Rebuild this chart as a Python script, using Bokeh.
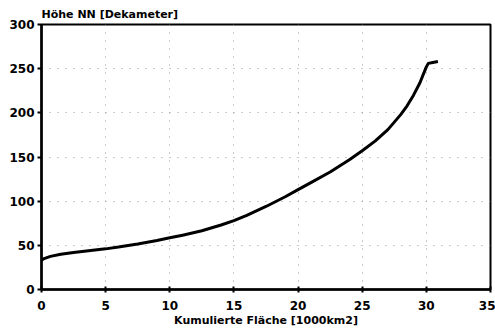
from bokeh.plotting import figure
from bokeh.models import Range1d, Title, FixedTicker
from bokeh.embed import file_html
from bokeh.resources import INLINE

area_x = [0, 0.2, 0.7, 1.5, 2.5, 4, 5, 6, 7.5, 9, 10, 11, 12.5, 14, 15, 16, 17.5, 19, 20, 21,
          22.5, 24, 25, 26, 27, 28, 28.5, 29, 29.5, 29.8, 30.0, 30.15, 30.5, 30.9]
height_y = [33, 35, 37.5, 40, 42, 44.5, 46, 48, 51.5, 55.5, 58.5, 61.5, 66.5, 73, 78, 84, 94, 105, 113, 121,
            133, 147, 157, 168, 181, 198, 208, 220, 234, 245, 252, 256, 257, 258]
x_ticks = [0, 5, 10, 15, 20, 25, 30, 35]
y_ticks = [0, 50, 100, 150, 200, 250, 300]

p = figure(width=495, height=333, output_backend="svg", toolbar_location=None,
           x_range=Range1d(0, 35), y_range=Range1d(0, 300),
           min_border_left=41, min_border_right=5, min_border_top=24, min_border_bottom=44)

p.line(area_x, height_y, line_color="black", line_width=3, line_join="round")

for ax in (p.xaxis, p.yaxis):
    ax.axis_line_width = 2.5
    ax.axis_line_color = "black"
    ax.major_tick_line_width = 2
    ax.major_tick_line_color = "black"
    ax.minor_tick_line_color = None
    ax.major_label_text_font = "DejaVu Sans"
    ax.major_label_text_font_style = "bold"
    ax.major_label_text_font_size = "12px"
    ax.major_label_text_color = "black"

p.xaxis.ticker = FixedTicker(ticks=x_ticks)
p.yaxis.ticker = FixedTicker(ticks=y_ticks)
p.xaxis.major_tick_in = 3
p.xaxis.major_tick_out = 3
p.yaxis.major_tick_in = 0
p.yaxis.major_tick_out = 4
p.xaxis.major_label_standoff = 8
p.yaxis.major_label_standoff = 3

p.xaxis.axis_label = "Kumulierte Fläche [1000km2]"
p.xaxis.axis_label_text_font = "DejaVu Sans"
p.xaxis.axis_label_text_font_style = "bold"
p.xaxis.axis_label_text_font_size = "11px"
p.xaxis.axis_label_text_color = "black"
p.xaxis.axis_label_standoff = 1

p.xgrid.ticker = FixedTicker(ticks=x_ticks)
p.ygrid.ticker = FixedTicker(ticks=y_ticks)
for g in (p.xgrid, p.ygrid):
    g.grid_line_color = "#999999"
    g.grid_line_dash = "1 7"
    g.grid_line_width = 1

p.outline_line_color = "black"
p.outline_line_width = 2
p.outline_line_alpha = 1

p.add_layout(Title(text="Höhe NN [Dekameter]", align="left", offset=0, standoff=8,
                   text_font="DejaVu Sans", text_font_style="bold", text_font_size="11px",
                   text_color="black"), "above")

open("out.html", "w").write(file_html(p, INLINE))
